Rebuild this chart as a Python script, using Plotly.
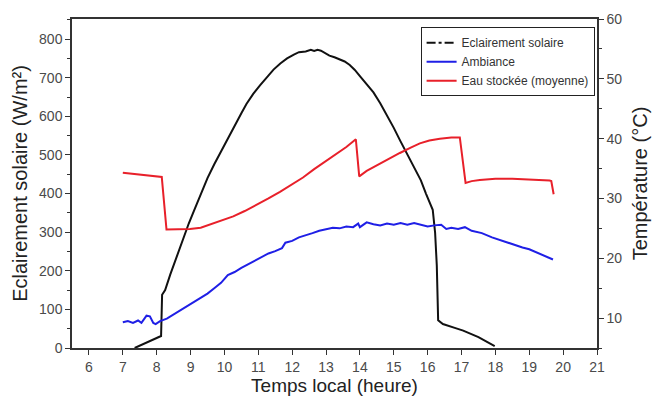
import plotly.graph_objects as go

# Solar irradiance (W/m²) vs local time (h)
solar_h = [7.35, 7.6, 7.9, 8.13, 8.16, 8.25, 8.4, 8.5, 8.65, 8.8, 8.95, 9.1, 9.3, 9.5, 9.7,
           9.9, 10.1, 10.3, 10.5, 10.65, 10.85, 11.05, 11.25, 11.45, 11.65, 11.85, 12.05,
           12.2, 12.4, 12.55, 12.65, 12.75, 12.85, 12.95, 13.1, 13.25, 13.4, 13.55, 13.7,
           13.85, 14.0, 14.2, 14.4, 14.6, 14.8, 15.0, 15.2, 15.4, 15.6, 15.8, 15.95, 16.05,
           16.15, 16.22, 16.27, 16.31, 16.45, 16.8, 17.05, 17.5, 17.98]
solar_v = [0, 10, 22, 31, 138, 150, 190, 215, 252, 290, 323, 355, 400, 440, 476,
           510, 544, 577, 608, 632, 658, 680, 701, 721, 737, 750, 760,
           766, 768, 772, 769, 772, 770, 764, 757, 753, 748, 742, 733,
           720, 704, 684, 662, 634, 603, 570, 535, 502, 468, 434, 400, 380,
           358, 299, 214, 72, 62, 52, 45, 28, 5]

# Ambient temperature (°C)
amb_h = [7.0, 7.15, 7.3, 7.45, 7.55, 7.7, 7.8, 7.9, 7.97, 8.1, 8.3, 8.5, 8.7, 8.9, 9.1,
         9.3, 9.5, 9.7, 9.9, 10.1, 10.3, 10.5, 10.7, 10.9, 11.1, 11.3, 11.5, 11.7, 11.8,
         12.0, 12.2, 12.4, 12.6, 12.8, 13.0, 13.2, 13.4, 13.6, 13.8, 13.95, 14.0, 14.2,
         14.4, 14.6, 14.8, 15.0, 15.2, 15.4, 15.6, 15.8, 16.0, 16.2, 16.4, 16.55, 16.7,
         16.9, 17.1, 17.3, 17.6, 17.9, 18.2, 18.5, 18.8, 19.0, 19.3, 19.7]
amb_t = [9.3, 9.5, 9.2, 9.6, 9.2, 10.4, 10.3, 9.2, 9.0, 9.5, 9.9, 10.6, 11.4, 12.1, 12.7,
         13.5, 14.1, 15.0, 15.9, 17.2, 17.7, 18.4, 19.0, 19.6, 20.1, 20.8, 21.2, 21.7, 22.6,
         22.9, 23.5, 23.8, 24.2, 24.6, 24.8, 25.1, 25.0, 25.3, 25.2, 25.8, 25.2, 26.0,
         25.7, 25.5, 25.8, 25.6, 25.9, 25.6, 25.9, 25.6, 25.3, 25.5, 25.6, 24.9, 25.1,
         24.9, 25.2, 24.6, 24.2, 23.5, 22.9, 22.4, 21.8, 21.5, 20.8, 19.8]

# Stored water temperature (mean, °C)
eau_h = [7.0, 8.15, 8.29, 8.98, 9.3, 9.57, 9.9, 10.26, 10.6, 10.95, 11.3, 11.64, 12.0,
         12.32, 12.65, 13.01, 13.3, 13.6, 13.88, 13.98, 14.2, 14.49, 14.8, 15.18, 15.5,
         15.77, 16.05, 16.36, 16.7, 16.95, 17.12, 17.3, 17.54, 18.0, 18.5, 19.0, 19.6,
         19.65, 19.72]
eau_t = [34.3, 33.6, 24.8, 24.9, 25.1, 25.6, 26.2, 27.0, 27.9, 28.9, 30.0, 31.1, 32.3,
         33.5, 34.9, 36.3, 37.4, 38.6, 39.9, 33.7, 34.6, 35.5, 36.5, 37.6, 38.5,
         39.2, 39.7, 40.0, 40.2, 40.2, 32.6, 32.9, 33.1, 33.3, 33.3, 33.2, 33.0,
         32.9, 30.7]

x_ticks = list(range(6, 22))

axis_col = "#333333"
ff = "Liberation Sans, Arial, sans-serif"
tick_font = dict(family=ff, size=14, color="#4a4a4a")
xtitle_font = dict(family=ff, size=19, color="#222222")
ytitle_font = dict(family=ff, size=20, color="#222222")

fig = go.Figure()
fig.add_trace(go.Scatter(x=solar_h, y=solar_v, mode="lines", name="Eclairement solaire",
                         line=dict(color="#111111", width=2), showlegend=False))
fig.add_trace(go.Scatter(x=[None], y=[None], mode="lines", name="Eclairement solaire",
                         line=dict(color="#111111", width=2, dash="dashdot")))
fig.add_trace(go.Scatter(x=amb_h, y=amb_t, mode="lines", name="Ambiance", yaxis="y2",
                         line=dict(color="#1f1fe6", width=2)))
fig.add_trace(go.Scatter(x=eau_h, y=eau_t, mode="lines", name="Eau stockée (moyenne)",
                         yaxis="y2", line=dict(color="#e8202a", width=2)))

fig.update_layout(
    width=663, height=403,
    margin=dict(l=72, r=66, t=11, b=55),
    paper_bgcolor="white", plot_bgcolor="white",
    xaxis=dict(range=[5.5, 21], tickvals=x_ticks, ticks="outside", ticklen=5,
               tickcolor=axis_col, showline=True, linecolor=axis_col, linewidth=1.5,
               mirror=True, showgrid=False, zeroline=False, tickfont=tick_font,
               title=dict(text="Temps local (heure)", font=xtitle_font, standoff=4)),
    yaxis=dict(range=[0, 852], dtick=100, tick0=0, ticks="outside", ticklen=5,
               tickcolor=axis_col, showline=True, linecolor=axis_col, linewidth=1.5,
               showgrid=False, zeroline=False, tickfont=tick_font,
               minor=dict(dtick=50, ticks="outside", ticklen=3, tickcolor=axis_col),
               title=dict(text="Eclairement solaire (W/m²)", font=ytitle_font, standoff=6)),
    yaxis2=dict(range=[5, 60], overlaying="y", side="right", tickvals=[10, 20, 30, 40, 50, 60],
                ticks="outside", ticklen=5, tickcolor=axis_col, showline=True,
                linecolor=axis_col, linewidth=1.5, showgrid=False, zeroline=False,
                tickfont=tick_font,
                minor=dict(dtick=5, tick0=0, ticks="outside", ticklen=3, tickcolor=axis_col),
                title=dict(text="Température (°C)", font=ytitle_font, standoff=12)),
    legend=dict(x=0.664, y=0.975, xanchor="left", yanchor="top",
                bordercolor="#222222", borderwidth=1, bgcolor="white",
                font=dict(family=ff, size=12, color="#333333"),
                tracegroupgap=0, itemwidth=30),
)

fig.write_html("out.html")
